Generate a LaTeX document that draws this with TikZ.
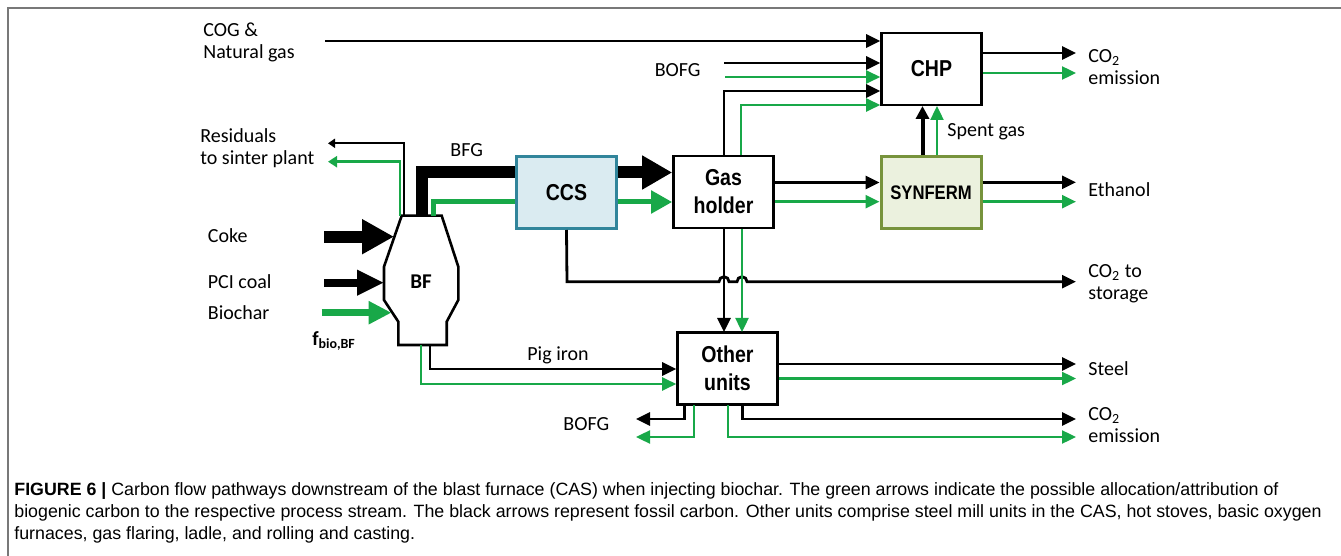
\documentclass[tikz,border=0pt]{standalone}
\usepackage{fontspec}
\setmainfont{Carlito}
\newfontfamily\boxfont[FakeStretch=0.85]{Liberation Sans}
\newfontfamily\capfont{Liberation Sans}
\usetikzlibrary{arrows.meta,calc}
\definecolor{grn}{RGB}{24,168,72}
\definecolor{ccsfill}{RGB}{218,235,241}
\definecolor{ccsdraw}{RGB}{49,133,155}
\definecolor{synfill}{RGB}{235,241,222}
\definecolor{syndraw}{RGB}{119,147,60}
\definecolor{framegray}{RGB}{120,120,120}
\begin{document}
\begin{tikzpicture}[x=0.5pt,y=-0.5pt,
  box/.style={draw=black,line width=1.3pt,fill=white,minimum width=50pt,minimum height=36pt,inner sep=0pt,align=center,font=\boxfont\bfseries\fontsize{11.5}{14}\selectfont},
  lbl/.style={anchor=west,inner sep=0pt,align=left,font=\fontsize{10}{11}\selectfont},
  blk/.style={draw=black,line width=1.4pt,-{Triangle[length=7pt,width=6.5pt]}},
  gr/.style={draw=grn,color=grn,line width=1.2pt,-{Triangle[length=7pt,width=6.5pt]}},
  capt/.style={anchor=base west,inner sep=0pt,font=\capfont\fontsize{8.9}{11}\selectfont},
]
\useasboundingbox (0,0) rectangle (1341,556);
\draw[framegray,line width=1pt] (8,556) -- (8,8) -- (1341,8);

% boxes
\node[box] (chp) at (931.5,69) {CHP};
\node[box] (gh) at (723.5,192) {Gas\\holder};
\node[box,fill=ccsfill,draw=ccsdraw,line width=1.5pt] (ccs) at (566.5,192.5) {CCS};
\node[box,fill=synfill,draw=syndraw,line width=1.5pt,font=\boxfont\bfseries\fontsize{9.8}{12}\selectfont] (syn) at (931,192.5) {SYNFERM};
\node[box] (oth) at (727.5,368.5) {Other\\units};

% BF
\draw[line width=1.3pt,fill=white] (401.7,215.7) -- (441.7,215.7) -- (458.3,266.7) -- (458.3,300) -- (446.7,321.7) -- (446.7,345) -- (398.3,345) -- (398.3,321.7) -- (384,300) -- (384,266.7) -- cycle;
\node[font=\bfseries\fontsize{10.5}{12}\selectfont,inner sep=0pt] (bf) at (421,282) {BF};

% labels
\node[lbl] (cog) at (203,42) {COG \&\\Natural gas};
\node[lbl,anchor=east] (bofgt) at (701,70) {BOFG};
\node[lbl] (resid) at (200,148) {Residuals\\to sinter plant};
\node[lbl] (bfg) at (450,150) {BFG};
\node[lbl] (coke) at (207.5,236) {Coke};
\node[lbl] (pci) at (207.5,282) {PCI coal};
\node[lbl] (bio) at (207.5,313) {Biochar};
\node[lbl] (fbio) at (312,341) {\textbf{f\textsubscript{bio,BF}}};
\node[lbl] (pig) at (527,355) {Pig iron};
\node[lbl] (bofgb) at (563,424) {BOFG};
\node[lbl] (spent) at (947,132) {Spent gas};
\node[lbl] (co2a) at (1088,67.5) {CO\textsubscript{2}\\emission};
\node[lbl] (eth) at (1088,190) {Ethanol};
\node[lbl] (co2s) at (1088,283.5) {CO\textsubscript{2} to\\storage};
\node[lbl] (steel) at (1088,369) {Steel};
\node[lbl] (co2b) at (1088,425.5) {CO\textsubscript{2}\\emission};

% inputs to BF
\draw[line width=6pt,-{Triangle[length=16pt,width=16.5pt]}] (324,236.7) -- (394,236.7);
\draw[line width=4pt,-{Triangle[length=13.5pt,width=12pt]}] (324,282.7) -- (384,282.7);
\draw[grn,line width=3.5pt,-{Triangle[length=11.5pt,width=11pt]}] (321.7,312.7) -- (391.5,312.7);

% residuals
\draw[black,line width=1pt,-{Triangle[length=3.5pt,width=4.5pt]}] (404,215.7) |- (328,143.3);
\draw[grn,line width=1.3pt,-{Triangle[length=4.5pt,width=5.5pt]}] (400,215.7) |- (328,161.7);

% BFG
\draw[line width=6pt] (422,215.7) |- (ccs.west |- 0,172.5);
\draw[line width=6pt,-{Triangle[length=15pt,width=16pt]}] (ccs.east |- 0,172.5) -- (gh.west |- 0,172.5);
\draw[grn,line width=2.5pt] (433.3,215.7) |- (ccs.west |- 0,202);
\draw[grn,line width=2.5pt,-{Triangle[length=10.5pt,width=11pt]}] (ccs.east |- 0,202) -- (gh.west |- 0,202);

% into CHP
\draw[blk] (325,41) -- (chp.west |- 0,41);
\draw[blk] (724,63) -- (chp.west |- 0,63);
\draw[gr] (725,77) -- (chp.west |- 0,77);
\draw[blk] (724,155) |- (chp.west |- 0,91);
\draw[gr] (741,155) |- (chp.west |- 0,105);

% CHP out
\draw[blk] (chp.east |- 0,53) -- (1076,53);
\draw[gr] (chp.east |- 0,73) -- (1076,73);

% spent gas
\draw[line width=2pt,-{Triangle[length=6.5pt,width=6.5pt]}] (922.5,155) -- (922.5,106);
\draw[gr] (937,155) -- (937,106);

% gas holder to SYNFERM
\draw[blk] (gh.east |- 0,182.5) -- (syn.west |- 0,182.5);
\draw[gr] (gh.east |- 0,201.7) -- (syn.west |- 0,201.7);
\draw[blk] (syn.east |- 0,182.3) -- (1076,182.3);
\draw[gr] (syn.east |- 0,201.7) -- (1076,201.7);

% CCS to storage with jumps
\draw[blk] (ccs.south) -- (567,281.7) -- (719,281.7) arc[start angle=180,end angle=360,radius=5] -- (737,281.7) arc[start angle=180,end angle=360,radius=5] -- (1076,281.7);

% gas holder to other units
\draw[blk] (724,229) -- (724,332);
\draw[gr] (742,229) -- (742,332);

% pig iron
\draw[blk] (430,345) |- (oth.west |- 0,369);
\draw[gr] (420.7,345) |- (oth.west |- 0,384);

% other units outputs
\draw[blk] (oth.east |- 0,364) -- (1076,364);
\draw[gr] (oth.east |- 0,378.5) -- (1076,378.5);
\draw[blk] (742.7,405) |- (1076,419);
\draw[gr] (727.7,405) |- (1076,437);
\draw[blk] (684.3,405) |- (636,419);
\draw[gr] (694,405) |- (636,437);

% caption
\node[capt] (cap1) at (14,495) {\textbf{FIGURE 6 |} Carbon flow pathways downstream of the blast furnace (CAS) when injecting biochar. The green arrows indicate the possible allocation/attribution of};
\node[capt] (cap2) at (14,517) {biogenic carbon to the respective process stream. The black arrows represent fossil carbon. Other units comprise steel mill units in the CAS, hot stoves, basic oxygen};
\node[capt] (cap3) at (14,539) {furnaces, gas flaring, ladle, and rolling and casting.};
\end{tikzpicture}
\end{document}
